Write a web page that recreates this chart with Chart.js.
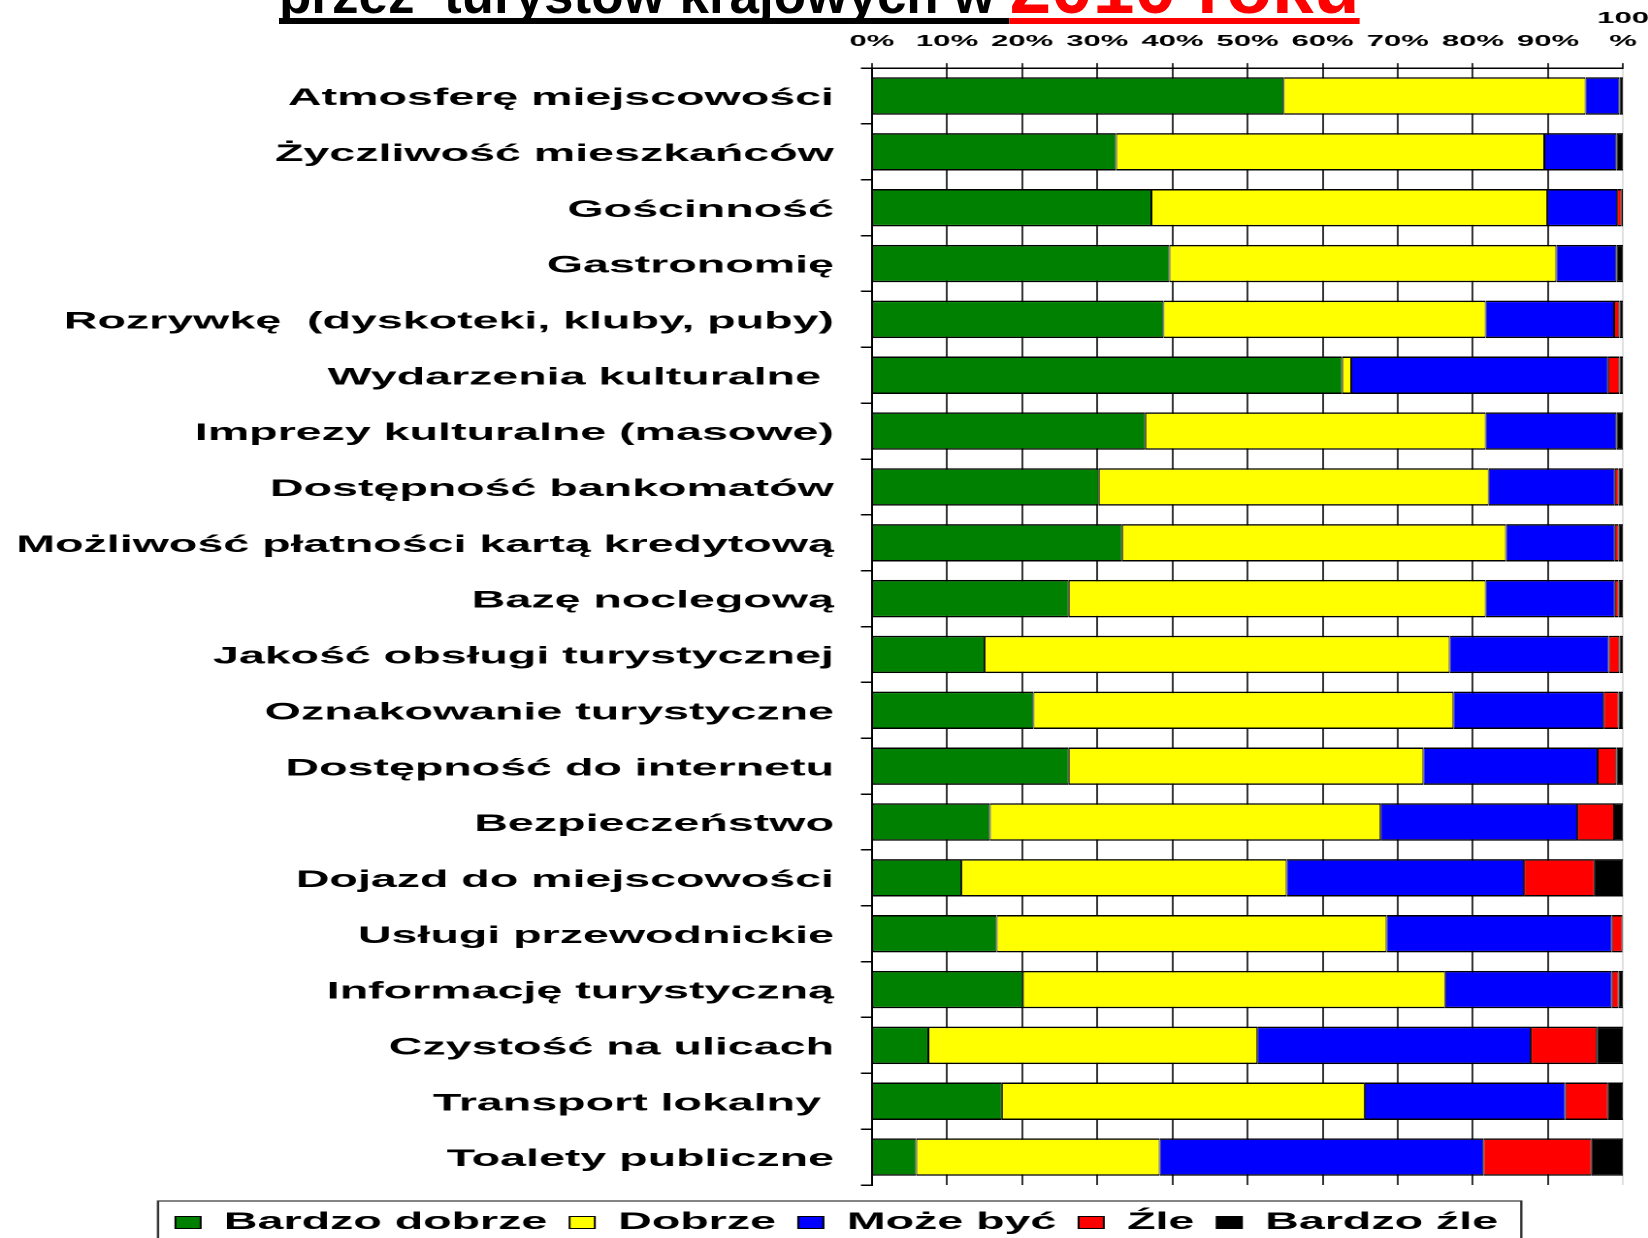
<!DOCTYPE html>
<html lang="pl">
<head>
<meta charset="UTF-8">
<title>Ocena przez turystów krajowych w 2010 roku</title>
<script src="https://cdn.jsdelivr.net/npm/chart.js"></script>
<style>
    html, body { margin: 0; padding: 0; background: #fff; }
    body { width: 1648px; height: 1238px; overflow: hidden; position: relative; }
    #wykres { position: absolute; left: 0; top: 0; transform: scaleX(1.94); transform-origin: 0 0; }
    .tytul {
        position: absolute; left: 279px; top: -50px;
        font-family: "Liberation Sans", Arial, sans-serif; font-weight: bold;
        font-size: 53px; line-height: 75px; white-space: pre;
    }
    .tytul span {
        text-decoration: underline; text-decoration-thickness: 6px;
        text-underline-offset: 5px; text-decoration-skip-ink: none;
    }
    .czarny { color: #000; }
    .czerwony { color: #f00; font-size: 75px; }
</style>
</head>
<body>
<canvas id="wykres" width="860" height="1252"></canvas>
<div class="tytul"><span class="czarny">przez  turystów krajowych w </span><span class="czerwony">2010 roku</span></div>

<script>
    // kategorie (od góry)
    const kategorie = [
        'Atmosferę miejscowości',
        'Życzliwość mieszkańców',
        'Gościnność',
        'Gastronomię',
        'Rozrywkę  (dyskoteki, kluby, puby)',
        'Wydarzenia kulturalne ',
        'Imprezy kulturalne (masowe)',
        'Dostępność bankomatów',
        'Możliwość płatności kartą kredytową',
        'Bazę noclegową',
        'Jakość obsługi turystycznej',
        'Oznakowanie turystyczne',
        'Dostępność do internetu',
        'Bezpieczeństwo',
        'Dojazd do miejscowości',
        'Usługi przewodnickie',
        'Informację turystyczną',
        'Czystość na ulicach',
        'Transport lokalny ',
        'Toalety publiczne'
    ];

    // odsetki odpowiedzi (%)
    const bardzoDobrze = [54.8, 32.5, 37.2, 39.6, 38.8, 62.6, 36.4, 30.2, 33.3, 26.2, 15.0, 21.5, 26.2, 15.7, 11.9, 16.6, 20.1, 7.5, 17.3, 5.9];
    const dobrze       = [40.2, 57.0, 52.7, 51.5, 42.9, 1.2, 45.3, 51.9, 51.1, 55.5, 61.9, 55.9, 47.2, 52.0, 43.3, 51.9, 56.2, 43.8, 48.3, 32.4];
    const mozeByc      = [4.5, 9.6, 9.3, 8.0, 17.1, 34.2, 17.4, 16.8, 14.5, 17.2, 21.2, 20.0, 23.2, 26.2, 31.6, 30.0, 22.2, 36.4, 26.7, 43.1];
    const zle          = [0, 0, 0.6, 0, 0.7, 1.5, 0, 0.5, 0.5, 0.5, 1.4, 2.0, 2.5, 4.9, 9.4, 1.4, 0.9, 8.8, 5.7, 14.4];
    const bardzoZle    = [0.5, 0.9, 0.2, 0.9, 0.5, 0.5, 0.9, 0.6, 0.6, 0.6, 0.5, 0.6, 0.9, 1.2, 3.8, 0.1, 0.6, 3.5, 2.0, 4.2];

    const serie = ['Bardzo dobrze', 'Dobrze', 'Może być', 'Źle', 'Bardzo źle'];
    const kolory = ['#008000', '#ffff00', '#0000ff', '#ff0000', '#000000'];
    const etykietyOsiX = ['0%', '10%', '20%', '30%', '40%', '50%', '60%', '70%', '80%', '90%', ['100', '%']];

    const czcionka = "'Liberation Sans', Arial, sans-serif";

    // ramka wokół legendy
    const ramkaLegendy = {
        id: 'ramkaLegendy',
        afterDraw(chart) {
            const lg = chart.legend;
            const boxy = lg && lg.legendHitBoxes;
            if (!boxy || !boxy.length) return;
            const pierwszy = boxy[0], ostatni = boxy[boxy.length - 1];
            const ctx = chart.ctx;
            ctx.save();
            ctx.strokeStyle = '#333';
            ctx.lineWidth = 1.2;
            ctx.strokeRect(pierwszy.left - 9, lg.top + 16,
                ostatni.left + ostatni.width - pierwszy.left + 21, lg.height + 20);
            ctx.restore();
        }
    };

    const dane = [bardzoDobrze, dobrze, mozeByc, zle, bardzoZle];

    new Chart(document.getElementById('wykres'), {
        type: 'bar',
        data: {
            labels: kategorie,
            datasets: serie.map((nazwa, i) => ({
                label: nazwa,
                data: dane[i],
                backgroundColor: kolory[i],
                borderColor: '#000',
                borderWidth: { top: 1.5, bottom: 1.5, left: 0.5, right: 0.5 },
                borderSkipped: false,
                barPercentage: 0.67,
                categoryPercentage: 1
            }))
        },
        options: {
            indexAxis: 'y',
            responsive: false,
            animation: false,
            devicePixelRatio: 2,
            layout: { padding: { left: 8.4, right: 5.8, top: -3, bottom: 7.5 } },
            scales: {
                x: {
                    position: 'top',
                    stacked: true,
                    min: 0,
                    max: 100,
                    border: { display: true, color: '#000', width: 1.5 },
                    grid: {
                        color: c => c.index === 10 ? '#d9d9d9' : '#000',
                        tickColor: '#000',
                        lineWidth: 0.8,
                        tickLength: 5
                    },
                    ticks: {
                        stepSize: 10,
                        autoSkip: false,
                        maxRotation: 0,
                        padding: 10,
                        color: '#000',
                        font: { family: czcionka, size: 16, weight: 'bold', lineHeight: 1.44 },
                        callback: (v, i) => etykietyOsiX[i]
                    }
                },
                y: {
                    stacked: true,
                    border: { display: true, color: '#000', width: 1 },
                    grid: {
                        drawOnChartArea: false,
                        tickColor: '#000',
                        lineWidth: 1.5,
                        tickLength: 5.7
                    },
                    ticks: {
                        padding: 13.9,
                        labelOffset: 2.5,
                        color: '#000',
                        font: { family: czcionka, size: 24, weight: 'bold' }
                    },
                    // pełna szerokość na najdłuższą etykietę (bez limitu połowy wykresu)
                    afterFit(os) {
                        const { widest } = os._getLabelSizes();
                        os.width = widest.width + os.options.grid.tickLength + os.options.ticks.padding;
                    }
                }
            },
            plugins: {
                tooltip: { enabled: false },
                legend: {
                    position: 'bottom',
                    title: { display: true, text: '', padding: 0, font: { size: 14, lineHeight: 1 } },
                    labels: {
                        boxWidth: 13,
                        boxHeight: 12,
                        padding: 11.5,
                        color: '#000',
                        font: { family: czcionka, size: 24, weight: 'bold' }
                    }
                }
            }
        },
        plugins: [ramkaLegendy]
    });
</script>
</body>
</html>
